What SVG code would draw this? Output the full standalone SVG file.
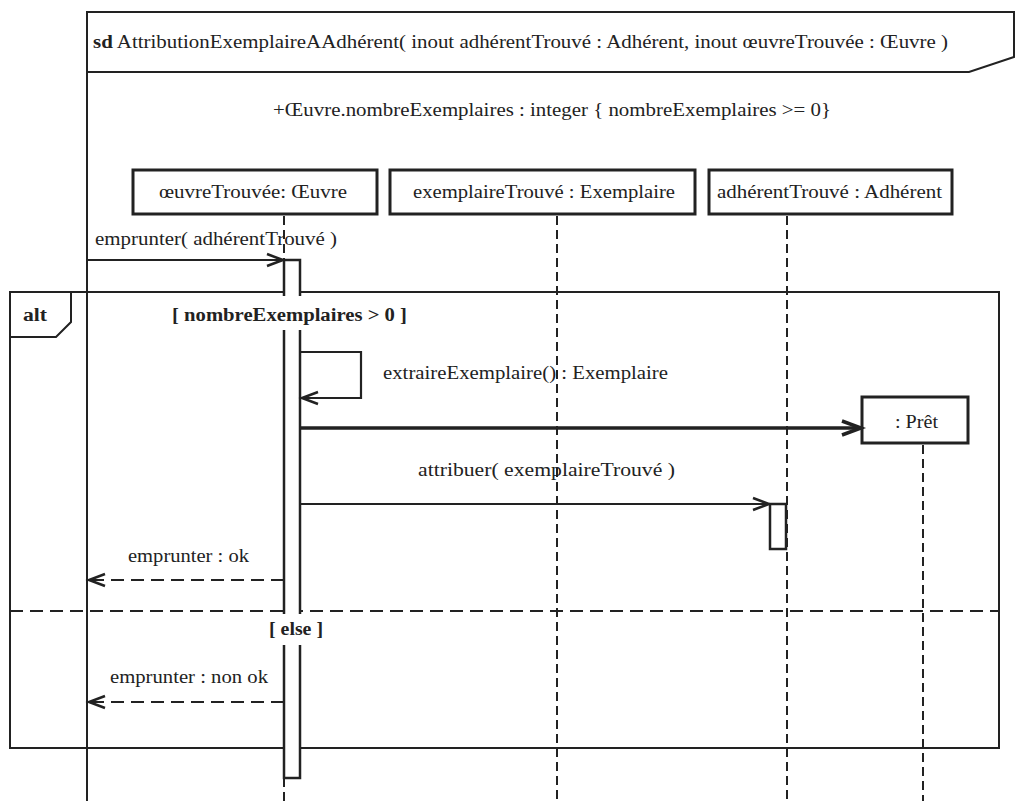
<svg xmlns="http://www.w3.org/2000/svg" width="1020" height="801" viewBox="0 0 1020 801">
<style>
.t{font-family:'Liberation Serif','Times New Roman',serif;font-size:18px;fill:#222}
.b{font-weight:bold}
.ln{fill:none;stroke:#222;stroke-width:2}
.box{fill:#fff;stroke:#222;stroke-width:3}
.life{fill:none;stroke:#222;stroke-width:2;stroke-dasharray:9,5}
.act{fill:#fff;stroke:#222;stroke-width:2.5}
.msg{fill:none;stroke:#222;stroke-width:2.2}
.ret{fill:none;stroke:#222;stroke-width:2.2;stroke-dasharray:13,7}
.crt{fill:none;stroke:#222;stroke-width:3.5}
.sep{fill:none;stroke:#222;stroke-width:2;stroke-dasharray:13,7}
</style>
<defs>
<marker id="oa" markerUnits="userSpaceOnUse" markerWidth="20" markerHeight="16" refX="17" refY="7" orient="auto" overflow="visible">
<path d="M1,1 L17,7 L1,13" fill="none" stroke="#222" stroke-width="2.5"/>
</marker>
<marker id="ob" markerUnits="userSpaceOnUse" markerWidth="24" markerHeight="18" refX="20" refY="8" orient="auto" overflow="visible">
<path d="M1,1 L20,8 L1,15" fill="none" stroke="#222" stroke-width="3.5"/>
</marker>
</defs>
<rect width="1020" height="801" fill="#fff"/>
<g id="frame-sd">
<path class="ln" d="M87,801 L87,12 L1014,12 L1014,57 L969,72 L87,72"/>
<text class="t" x="93" y="48" textLength="855" lengthAdjust="spacingAndGlyphs"><tspan class="b">sd</tspan> AttributionExemplaireAAdhérent( inout adhérentTrouvé : Adhérent, inout œuvreTrouvée : Œuvre )</text>
<text class="t" x="273" y="116" textLength="558" lengthAdjust="spacingAndGlyphs">+Œuvre.nombreExemplaires : integer { nombreExemplaires &gt;= 0}</text>
</g>
<g id="frame-alt">
<rect class="ln" x="10" y="292" width="989" height="456"/>
<path class="ln" d="M10,337 L56,337 L71,322 L71,292"/>
<text class="t b" x="23" y="321" textLength="24" lengthAdjust="spacingAndGlyphs">alt</text>
<line class="sep" x1="10" y1="611" x2="999" y2="611"/>
</g>
<g id="oeuvreTrouvee">
<rect class="box" x="133" y="170" width="244" height="44"/>
<text class="t" x="159" y="198" textLength="188" lengthAdjust="spacingAndGlyphs">œuvreTrouvée: Œuvre</text>
<line class="life" x1="284" y1="216" x2="284" y2="260"/>
<line class="life" x1="284" y1="778" x2="284" y2="801"/>
<rect class="act" x="284" y="260" width="16" height="518"/>
</g>
<g id="exemplaireTrouve">
<rect class="box" x="390" y="170" width="305" height="44"/>
<text class="t" x="413" y="198" textLength="262" lengthAdjust="spacingAndGlyphs">exemplaireTrouvé : Exemplaire</text>
<line class="life" x1="557" y1="216" x2="557" y2="801"/>
</g>
<g id="adherentTrouve">
<rect class="box" x="709" y="170" width="243" height="44"/>
<text class="t" x="717" y="198" textLength="225" lengthAdjust="spacingAndGlyphs">adhérentTrouvé : Adhérent</text>
<line class="life" x1="787" y1="216" x2="787" y2="801"/>
<rect class="act" x="770" y="504" width="16" height="45"/>
</g>
<g id="pret">
<rect class="box" x="862" y="397" width="106" height="46"/>
<text class="t" x="895" y="428" textLength="43" lengthAdjust="spacingAndGlyphs">: Prêt</text>
<line class="life" x1="923" y1="445" x2="923" y2="801"/>
</g>
<g id="guards">
<rect x="168" y="296" width="243" height="34" fill="#fff"/>
<text class="t b" x="172" y="321" textLength="235" lengthAdjust="spacingAndGlyphs">[ nombreExemplaires &gt; 0 ]</text>
<rect x="265" y="614" width="62" height="31" fill="#fff"/>
<text class="t b" x="269" y="635" textLength="54" lengthAdjust="spacingAndGlyphs">[ else ]</text>
</g>
<g id="connectors">
<line class="msg" x1="87" y1="260" x2="283" y2="260" marker-end="url(#oa)"/>
<text class="t" x="95" y="245" textLength="242" lengthAdjust="spacingAndGlyphs">emprunter( adhérentTrouvé )</text>
<polyline class="msg" points="300,352 361,352 361,398 302,398" marker-end="url(#oa)"/>
<text class="t" x="383" y="379" textLength="285" lengthAdjust="spacingAndGlyphs">extraireExemplaire() : Exemplaire</text>
<line class="crt" x1="300" y1="428" x2="861" y2="428" marker-end="url(#ob)"/>
<line class="msg" x1="300" y1="504" x2="769" y2="504" marker-end="url(#oa)"/>
<text class="t" x="418" y="476" textLength="257" lengthAdjust="spacingAndGlyphs">attribuer( exemplaireTrouvé )</text>
<line class="ret" x1="284" y1="580" x2="89" y2="580" marker-end="url(#oa)"/>
<text class="t" x="128" y="562" textLength="121" lengthAdjust="spacingAndGlyphs">emprunter : ok</text>
<line class="ret" x1="284" y1="702" x2="89" y2="702" marker-end="url(#oa)"/>
<text class="t" x="110" y="683" textLength="158" lengthAdjust="spacingAndGlyphs">emprunter : non ok</text>
</g>
</svg>
